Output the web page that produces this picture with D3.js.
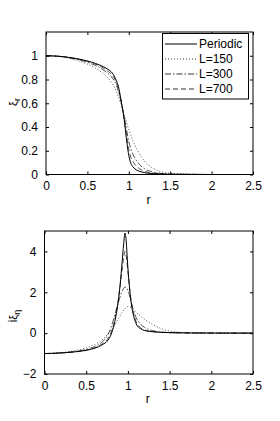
<!DOCTYPE html>
<html>
<head>
<meta charset="utf-8">
<script src="https://cdn.jsdelivr.net/npm/d3@7"></script>
<style>
  body { margin: 0; background: #fff; }
  svg { display: block; font-family: "Liberation Sans", Arial, sans-serif; }
</style>
</head>
<body>
<svg id="chart" width="280" height="421"></svg>
<script>
// top panel: xi_r vs r
var rTop = [0, 0.1, 0.2, 0.3, 0.4, 0.5, 0.6, 0.7, 0.75, 0.8, 0.85, 0.875, 0.9, 0.925, 0.95, 0.975, 1.0, 1.025, 1.05, 1.1, 1.15, 1.2, 1.3, 1.4, 1.5, 1.75, 2.0, 2.5];
var xiPeriodic = [1.0, 0.998, 0.993, 0.984, 0.972, 0.956, 0.935, 0.905, 0.885, 0.855, 0.79, 0.74, 0.65, 0.55, 0.43, 0.28, 0.16, 0.095, 0.065, 0.035, 0.022, 0.014, 0.007, 0.004, 0.002, 0.001, 0, 0];
var xiL150 = [1.0, 0.997, 0.99, 0.975, 0.955, 0.93, 0.895, 0.845, 0.81, 0.765, 0.70, 0.655, 0.60, 0.545, 0.49, 0.435, 0.38, 0.33, 0.28, 0.21, 0.15, 0.105, 0.05, 0.022, 0.01, 0.002, 0, 0];
var xiL300 = [1.0, 0.998, 0.992, 0.98, 0.965, 0.945, 0.917, 0.877, 0.85, 0.815, 0.755, 0.70, 0.635, 0.555, 0.465, 0.37, 0.28, 0.215, 0.17, 0.11, 0.07, 0.045, 0.02, 0.008, 0.003, 0.001, 0, 0];
var xiL700 = [1.0, 0.998, 0.993, 0.983, 0.97, 0.953, 0.928, 0.893, 0.868, 0.838, 0.775, 0.72, 0.645, 0.55, 0.44, 0.32, 0.21, 0.145, 0.11, 0.065, 0.04, 0.025, 0.012, 0.005, 0.002, 0.001, 0, 0];

// bottom panel: i xi_eta vs r
var rBot = [0, 0.1, 0.2, 0.3, 0.4, 0.5, 0.6, 0.7, 0.75, 0.8, 0.85, 0.875, 0.9, 0.925, 0.95, 0.965, 0.975, 1.0, 1.025, 1.05, 1.075, 1.1, 1.15, 1.2, 1.3, 1.4, 1.5, 1.75, 2.0, 2.5];
var etaPeriodic = [-1.0, -0.99, -0.97, -0.94, -0.9, -0.84, -0.74, -0.55, -0.4, -0.05, 0.7, 1.3, 2.1, 3.2, 4.4, 4.9, 4.7, 3.2, 2.0, 1.2, 0.75, 0.45, 0.22, 0.13, 0.07, 0.04, 0.025, 0.01, 0.005, 0];
var etaL150 = [-1.0, -0.98, -0.95, -0.9, -0.83, -0.72, -0.56, -0.3, -0.1, 0.15, 0.45, 0.62, 0.8, 0.98, 1.12, 1.2, 1.25, 1.3, 1.28, 1.22, 1.12, 1.02, 0.85, 0.68, 0.42, 0.22, 0.1, 0.015, 0.003, 0];
var etaL300 = [-1.0, -0.985, -0.96, -0.93, -0.88, -0.8, -0.66, -0.4, -0.15, 0.3, 1.0, 1.35, 1.7, 2.0, 2.2, 2.25, 2.25, 2.1, 1.75, 1.35, 1.0, 0.75, 0.45, 0.28, 0.12, 0.05, 0.025, 0.01, 0.005, 0];
var etaL700 = [-1.0, -0.99, -0.97, -0.94, -0.895, -0.83, -0.72, -0.5, -0.32, 0.05, 0.8, 1.35, 2.1, 2.9, 3.7, 4.0, 3.9, 3.0, 2.0, 1.3, 0.85, 0.55, 0.27, 0.15, 0.07, 0.04, 0.025, 0.01, 0.005, 0];

var xTicks = [0, 0.5, 1, 1.5, 2, 2.5];
var yTicksTop = [0, 0.2, 0.4, 0.6, 0.8, 1];
var yTicksBot = [-2, 0, 2, 4];
var legendLabels = ["Periodic", "L=150", "L=300", "L=700"];
var dashes = [null, "1,2", "6,2,1.5,2", "5,3"];

var svg = d3.select("#chart");

function panel(opts) {
  var x = d3.scaleLinear().domain([0, 2.5]).range([opts.left, opts.right]);
  var y = d3.scaleLinear().domain(opts.ydom).range([opts.bottom, opts.top]);
  var g = svg.append("g");

  var line = d3.line()
    .x(function(d) { return x(d[0]); })
    .y(function(d) { return y(d[1]); })
    .curve(d3.curveMonotoneX);

  // draw curves, solid last so it sits on top
  [1, 2, 3, 0].forEach(function(i) {
    var pts = opts.r.map(function(r, k) { return [r, opts.series[i][k]]; });
    g.append("path")
      .datum(pts)
      .attr("d", line)
      .attr("fill", "none")
      .attr("stroke", i == 0 ? "#000" : "#222")
      .attr("stroke-width", i == 0 ? 1 : 0.8)
      .attr("stroke-dasharray", dashes[i]);
  });

  // box
  g.append("rect")
    .attr("x", opts.left).attr("y", opts.top)
    .attr("width", opts.right - opts.left)
    .attr("height", opts.bottom - opts.top)
    .attr("fill", "none").attr("stroke", "#000").attr("stroke-width", 1);

  // inward ticks on all four sides (matlab style)
  var ax = d3.axisBottom(x).tickValues(xTicks).tickSizeInner(-3).tickSizeOuter(0).tickPadding(7)
    .tickFormat(d3.format("~g"));
  var gx = g.append("g").attr("transform", "translate(0," + opts.bottom + ")").call(ax);
  gx.select(".domain").remove();
  g.append("g").attr("transform", "translate(0," + opts.top + ")")
    .call(d3.axisTop(x).tickValues(xTicks).tickSizeInner(-3).tickSizeOuter(0).tickFormat(""))
    .select(".domain").remove();

  var ay = d3.axisLeft(y).tickValues(opts.yticks).tickSizeInner(-3).tickSizeOuter(0).tickPadding(8)
    .tickFormat(d3.format("~g"));
  var gy = g.append("g").attr("transform", "translate(" + opts.left + ",0)").call(ay);
  gy.select(".domain").remove();
  g.append("g").attr("transform", "translate(" + opts.right + ",0)")
    .call(d3.axisRight(y).tickValues(opts.yticks).tickSizeInner(-3).tickSizeOuter(0).tickFormat(""))
    .select(".domain").remove();

  g.selectAll(".tick text")
    .attr("font-size", 12)
    .attr("font-family", "'Liberation Sans', Arial, sans-serif")
    .attr("fill", "#000");
  g.selectAll(".tick line").attr("stroke", "#000");

  g.append("text")
    .attr("x", (opts.left + opts.right) / 2 - 1)
    .attr("y", opts.bottom + 29)
    .attr("text-anchor", "middle")
    .attr("font-size", 12)
    .text("r");

  var yl = g.append("text")
    .attr("transform", "translate(" + 17 + "," + opts.ylabelY + ") rotate(-90)")
    .attr("text-anchor", "middle")
    .attr("font-size", 12);
  if (opts.prefix) yl.append("tspan").text(opts.prefix);
  yl.append("tspan").attr("font-size", 11).text("ξ");
  yl.append("tspan").attr("font-size", 9).attr("dy", 3).text(opts.sub);

  return { x: x, y: y, g: g };
}

panel({
  left: 46, right: 253, top: 32, bottom: 174.5,
  ydom: [0, 1.2], yticks: yTicksTop,
  r: rTop, series: [xiPeriodic, xiL150, xiL300, xiL700],
  ylabelY: 102, sub: "r"
});

panel({
  left: 44.5, right: 253, top: 231, bottom: 374,
  ydom: [-2, 5], yticks: yTicksBot,
  r: rBot, series: [etaPeriodic, etaL150, etaL300, etaL700],
  ylabelY: 316, prefix: "i", sub: "η"
});

// legend
var leg = svg.append("g");
leg.append("rect")
  .attr("x", 162.5).attr("y", 33.5)
  .attr("width", 86).attr("height", 65.5)
  .attr("fill", "#fff").attr("stroke", "#000").attr("stroke-width", 1);
legendLabels.forEach(function(lab, i) {
  var yy = 44 + i * 15;
  leg.append("line")
    .attr("x1", 165).attr("x2", 197).attr("y1", yy).attr("y2", yy)
    .attr("stroke", "#000").attr("stroke-width", i == 0 ? 1 : 0.8)
    .attr("stroke-dasharray", dashes[i]);
  leg.append("text")
    .attr("x", 199).attr("y", yy + 4)
    .attr("font-size", 12)
    .text(lab);
});
</script>
</body>
</html>
